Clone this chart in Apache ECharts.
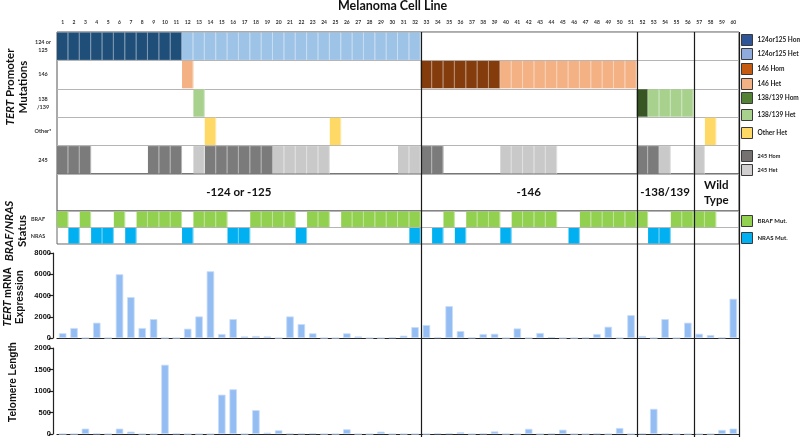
<!DOCTYPE html>
<html><head><meta charset="utf-8">
<script src="https://cdn.jsdelivr.net/npm/echarts@6/dist/echarts.min.js"></script>
<style>html,body{margin:0;padding:0;background:#fff}#c{width:800px;height:438px}</style>
</head><body><div id="c"></div>
<script>
// ---------------- DATA ----------------
const cellLines = ['1','2','3','4','5','6','7','8','9','10','11','12','13','14','15','16','17','18','19','20',
  '21','22','23','24','25','26','27','28','29','30','31','32','33','34','35','36','37','38','39','40',
  '41','42','43','44','45','46','47','48','49','50','51','52','53','54','55','56','57','58','59','60'];

const rowLabels = ['124 or\n125', '146', '138\n/139', 'Other*', '245'];
// 2 = Hom, 1 = Het, 0 = none
const mut124 = [2,2,2,2,2,2,2,2,2,2, 2,1,1,1,1,1,1,1,1,1, 1,1,1,1,1,1,1,1,1,1, 1,1,0,0,0,0,0,0,0,0, 0,0,0,0,0,0,0,0,0,0, 0,0,0,0,0,0,0,0,0,0];
const mut146 = [0,0,0,0,0,0,0,0,0,0, 0,1,0,0,0,0,0,0,0,0, 0,0,0,0,0,0,0,0,0,0, 0,0,2,2,2,2,2,2,2,1, 1,1,1,1,1,1,1,1,1,1, 1,0,0,0,0,0,0,0,0,0];
const mut138 = [0,0,0,0,0,0,0,0,0,0, 0,0,1,0,0,0,0,0,0,0, 0,0,0,0,0,0,0,0,0,0, 0,0,0,0,0,0,0,0,0,0, 0,0,0,0,0,0,0,0,0,0, 0,2,1,1,1,1,0,0,0,0];
const mutOther = [0,0,0,0,0,0,0,0,0,0, 0,0,0,1,0,0,0,0,0,0, 0,0,0,0,1,0,0,0,0,0, 0,0,0,0,0,0,0,0,0,0, 0,0,0,0,0,0,0,0,0,0, 0,0,0,0,0,0,0,1,0,0];
const mut245 = [2,2,2,0,0,0,0,0,2,2, 2,0,1,2,2,2,2,2,2,1, 1,1,1,1,0,0,0,0,0,0, 1,1,2,2,0,0,0,0,0,1, 1,1,1,1,0,0,0,0,0,0, 0,2,2,1,0,0,1,0,0,0];

const statusLabels = ['BRAF', 'NRAS'];
const brafMut = [1,0,1,0,0,1,0,1,1,1, 1,0,1,1,1,0,0,1,1,1, 1,0,1,1,0,1,1,1,1,1, 1,1,0,0,1,0,1,1,1,0, 1,1,1,1,0,0,1,1,1,1, 1,1,0,0,1,1,1,1,0,0];
const nrasMut = [0,1,0,1,1,0,1,0,0,0, 0,1,0,0,0,1,1,0,0,0, 0,1,0,0,0,0,0,0,0,0, 0,1,0,1,0,1,0,0,0,1, 0,0,0,0,0,1,0,0,0,0, 0,0,1,1,0,0,0,0,0,0];

const groupNames = ['-124 or -125', '-146', '-138/139', 'Wild\nType'];
const groupStarts = [1, 33, 52, 57];
const groupEnds = [32, 51, 56, 60];

const tertMRNA = [450,940,0,1440,0,6000,3850,940,1780,0, 0,875,2030,6280,375,1780,150,190,150,0,
  2030,1310,440,0,0,440,150,0,0,50, 220,1030,1220,60,3000,650,30,375,400,0,
  900,0,470,90,0,0,30,375,1060,0, 2150,190,0,1780,0,1440,400,280,30,3690];
const telomereLength = [0,0,125,10,0,125,55,0,0,1610, 10,0,0,0,915,1040,0,555,30,86,
  10,10,15,0,0,110,0,0,55,0, 0,0,0,15,15,40,0,10,60,0,
  0,120,0,10,100,0,0,10,0,140, 0,10,585,10,0,0,0,0,95,125];

const mrnaTicks = [0, 2000, 4000, 6000, 8000];
const teloTicks = [0, 500, 1000, 1500, 2000];

// ---------------- STYLE ----------------
const mutRows = [mut124, mut146, mut138, mutOther, mut245];
const heatTypes = [
  {name:'124or125 Hom', row:0, code:2, color:'#1F4E79', lg:'#2F5597'},
  {name:'124or125 Het', row:0, code:1, color:'#9DC3E6', lg:'#8FAADC'},
  {name:'146 Hom', row:1, code:2, color:'#843C0C', lg:'#C55A11'},
  {name:'146 Het', row:1, code:1, color:'#F4B183', lg:'#F4B183'},
  {name:'138/139 Hom', row:2, code:2, color:'#375623', lg:'#548235'},
  {name:'138/139 Het', row:2, code:1, color:'#A9D18E', lg:'#A9D18E'},
  {name:'Other Het', row:3, code:1, color:'#FFD966', lg:'#FFD966'},
  {name:'245 Hom', row:4, code:2, color:'#7B7B7B', lg:'#767171'},
  {name:'245 Het', row:4, code:1, color:'#C9C9C9', lg:'#D0CECE'}
];
const statusTypes = [
  {name:'BRAF Mut.', row:0, arr:brafMut, color:'#92D050'},
  {name:'NRAS Mut.', row:1, arr:nrasMut, color:'#00B0F0'}
];

const L = 57, R = 61;
const calibri = 'Lato';
const arial = 'Liberation Sans';

function renderCell(params, api){
  const p = api.coord([api.value(0), api.value(1)]);
  const s = api.size([1,1]);
  const x0 = p[0]-s[0]/2, y0 = p[1]-s[1]/2;
  return {type:'group', children:[
    {type:'rect', shape:{x:x0, y:y0+0.5, width:s[0], height:s[1]-1}, style:{fill: api.visual('color')}},
    {type:'line', shape:{x1:x0+s[0]-0.5, y1:y0+0.5, x2:x0+s[0]-0.5, y2:y0+s[1]-0.5}, style:{stroke:'rgba(255,255,255,0.45)', lineWidth:1}}
  ]};
}

const series = [];
heatTypes.forEach(t => {
  const d = [];
  mutRows[t.row].forEach((v, i) => { if (v === t.code) d.push([i, t.row]); });
  series.push({type:'custom', name:t.name, xAxisIndex:0, yAxisIndex:0, itemStyle:{color:t.color},
    renderItem: renderCell, data: d, z: 3});
});
statusTypes.forEach(t => {
  const d = [];
  t.arr.forEach((v, i) => { if (v === 1) d.push([i, t.row]); });
  series.push({type:'custom', name:t.name, xAxisIndex:2, yAxisIndex:2, itemStyle:{color:t.color},
    renderItem: renderCell, data: d, z: 3});
});
// group labels
series.push({type:'custom', xAxisIndex:1, yAxisIndex:1, silent:true,
  data: groupNames.map((n, i) => [groupStarts[i]-1, groupEnds[i]-1, 0.5]),
  renderItem: function(params, api){
    const p0 = api.coord([api.value(0), api.value(2)]);
    const p1 = api.coord([api.value(1), api.value(2)]);
    return {type:'text', style:{text: groupNames[params.dataIndex], x:(p0[0]+p1[0])/2, y:p0[1],
      align:'center', verticalAlign:'middle', fontFamily:calibri, fontWeight:'bold', fontSize:11.5, lineHeight:15, fill:'#111'}};
  }});
// bars
const barStyle = {color:'#94BEF3', borderColor:'#C9DDF8', borderWidth:0.8};
series.push({type:'bar', name:'TERT mRNA', xAxisIndex:3, yAxisIndex:3, data:tertMRNA, barWidth:7.5, itemStyle:barStyle});
series.push({type:'bar', name:'Telomere', xAxisIndex:4, yAxisIndex:4, data:telomereLength, barWidth:7.5, itemStyle:barStyle});
// group separators
series.push({type:'custom', xAxisIndex:5, yAxisIndex:5, silent:true, z:10,
  data: groupEnds.map(e => [e, 0]),
  renderItem: function(params, api){
    const a = api.coord([api.value(0), 0]);
    const b = api.coord([api.value(0), 1]);
    return {type:'line', shape:{x1:Math.round(a[0])+0.5, y1:a[1], x2:Math.round(b[0])+0.5, y2:b[1]}, style:{stroke:'#1a1a1a', lineWidth:1.2}};
  }});

function legendOf(names, top, gap, fs){
  return {top:top, left:741, orient:'vertical', itemWidth:11, itemHeight:11, itemGap:gap, padding:0,
    selectedMode:false, icon:'rect',
    itemStyle:{borderColor:'#3a3a3a', borderWidth:1},
    textStyle:{fontFamily:calibri, fontWeight:'bold', fontSize:fs, color:'#222'},
    data: names.map(n => {
      const h = heatTypes.find(t => t.name === n) || statusTypes.find(t => t.name === n);
      return {name:n, itemStyle:{color: h.lg || h.color}};
    })};
}

const plain = v => String(v);
const hiddenCat = {type:'category', data:cellLines, show:false};
const option = {
  animation:false,
  backgroundColor:'#fff',
  title:{text:'Melanoma Cell Line', left:338, top:-1, padding:0,
    textStyle:{fontFamily:calibri, fontWeight:'bold', fontSize:12.5, color:'#111'}},
  legend:[
    legendOf(['124or125 Hom','124or125 Het'], 34, 2, 6.5),
    legendOf(['146 Hom','146 Het'], 63, 3, 6.5),
    legendOf(['138/139 Hom','138/139 Het'], 92, 5, 6.5),
    legendOf(['Other Het'], 127, 2, 6.5),
    legendOf(['245 Hom','245 Het'], 150, 2, 5.5),
    legendOf(['BRAF Mut.','NRAS Mut.'], 215, 5, 6)
  ],
  grid:[
    {left:L, right:R, top:32, height:142, show:true, borderColor:'#555', borderWidth:1},
    {left:L, right:R, top:174, height:37, show:true, borderColor:'#444', borderWidth:1},
    {left:L, right:R, top:211, height:33, show:true, borderColor:'#666', borderWidth:1},
    {left:L, right:R, top:253, height:85},
    {left:L, right:R, top:348, height:86},
    {left:L, right:R, top:32, bottom:1}
  ],
  xAxis:[
    {type:'category', gridIndex:0, data:cellLines, position:'top', axisLine:{show:false}, axisTick:{show:false},
      axisLabel:{interval:0, fontSize:5, fontWeight:'bold', fontFamily:calibri, color:'#333', margin:7}},
    Object.assign({gridIndex:1}, hiddenCat),
    Object.assign({gridIndex:2}, hiddenCat),
    {type:'category', gridIndex:3, data:cellLines, axisLine:{lineStyle:{color:'#222', width:1.2}},
      axisTick:{alignWithLabel:true, interval:0, length:3, lineStyle:{color:'#222', width:1.2}}, axisLabel:{show:false}},
    {type:'category', gridIndex:4, data:cellLines, axisLine:{lineStyle:{color:'#222', width:1.2}},
      axisTick:{alignWithLabel:true, interval:0, length:3, lineStyle:{color:'#222', width:1.2}}, axisLabel:{show:false}},
    {type:'value', gridIndex:5, min:0, max:60, show:false}
  ],
  yAxis:[
    {type:'category', gridIndex:0, data:rowLabels, inverse:true, axisLine:{show:false}, axisTick:{show:false},
      splitLine:{show:true, interval:0, lineStyle:{color:'#b5b5b5', width:1}},
      axisLabel:{interval:0, fontSize:5.5, fontWeight:'bold', fontFamily:calibri, color:'#333', align:'center', margin:14, lineHeight:8}},
    {type:'value', gridIndex:1, min:0, max:1, show:false},
    {type:'category', gridIndex:2, data:statusLabels, inverse:true, axisLine:{show:false}, axisTick:{show:false},
      splitLine:{show:true, interval:0, lineStyle:{color:'#b5b5b5', width:1}},
      axisLabel:{interval:0, fontSize:5.5, fontWeight:'bold', fontFamily:calibri, color:'#333', align:'center', margin:19}},
    {type:'value', gridIndex:3, min:mrnaTicks[0], max:mrnaTicks[mrnaTicks.length-1], interval:mrnaTicks[1]-mrnaTicks[0], offset:4,
      axisLine:{show:true, lineStyle:{color:'#222', width:1.2}}, axisTick:{show:true, length:4, lineStyle:{color:'#222', width:1.2}},
      splitLine:{show:false}, axisLabel:{formatter:plain, fontSize:7.5, fontWeight:'bold', fontFamily:arial, color:'#111', margin:2}},
    {type:'value', gridIndex:4, min:teloTicks[0], max:teloTicks[teloTicks.length-1], interval:teloTicks[1]-teloTicks[0], offset:4,
      axisLine:{show:true, lineStyle:{color:'#222', width:1.2}}, axisTick:{show:true, length:4, lineStyle:{color:'#222', width:1.2}},
      splitLine:{show:false}, axisLabel:{formatter:plain, fontSize:7.5, fontWeight:'bold', fontFamily:arial, color:'#111', margin:2}},
    {type:'value', gridIndex:5, min:0, max:1, show:false}
  ],
  graphic:[
    {type:'text', x:16.5, y:87, rotation:Math.PI/2, silent:true,
      style:{text:'{i|TERT} Promoter\nMutations', align:'center', verticalAlign:'middle', fontFamily:calibri, fontWeight:'bold', fontSize:11.5, lineHeight:13, fill:'#111',
        rich:{i:{fontStyle:'italic', fontWeight:'bold', fontFamily:calibri, fontSize:11.5, fill:'#111'}}}},
    {type:'text', x:16, y:231, rotation:Math.PI/2, silent:true,
      style:{text:'{i|BRAF/NRAS}\nStatus', align:'center', verticalAlign:'middle', fontFamily:calibri, fontWeight:'bold', fontSize:11.5, lineHeight:13, fill:'#111',
        rich:{i:{fontStyle:'italic', fontWeight:'bold', fontFamily:calibri, fontSize:11.5, fill:'#111'}}}},
    {type:'text', x:14, y:297, rotation:Math.PI/2, silent:true,
      style:{text:'{i|TERT} mRNA\nExpression', align:'center', verticalAlign:'middle', fontFamily:arial, fontWeight:'bold', fontSize:10, lineHeight:12, fill:'#111',
        rich:{i:{fontStyle:'italic', fontWeight:'bold', fontFamily:arial, fontSize:10, fill:'#111'}}}},
    {type:'text', x:13, y:382, rotation:Math.PI/2, silent:true,
      style:{text:'Telomere Length', align:'center', verticalAlign:'middle', fontFamily:arial, fontWeight:'bold', fontSize:10, fill:'#111'}}
  ],
  series: series
};
const chart = echarts.init(document.getElementById('c'), null, {renderer:'canvas'});
chart.setOption(option);
</script></body></html>
